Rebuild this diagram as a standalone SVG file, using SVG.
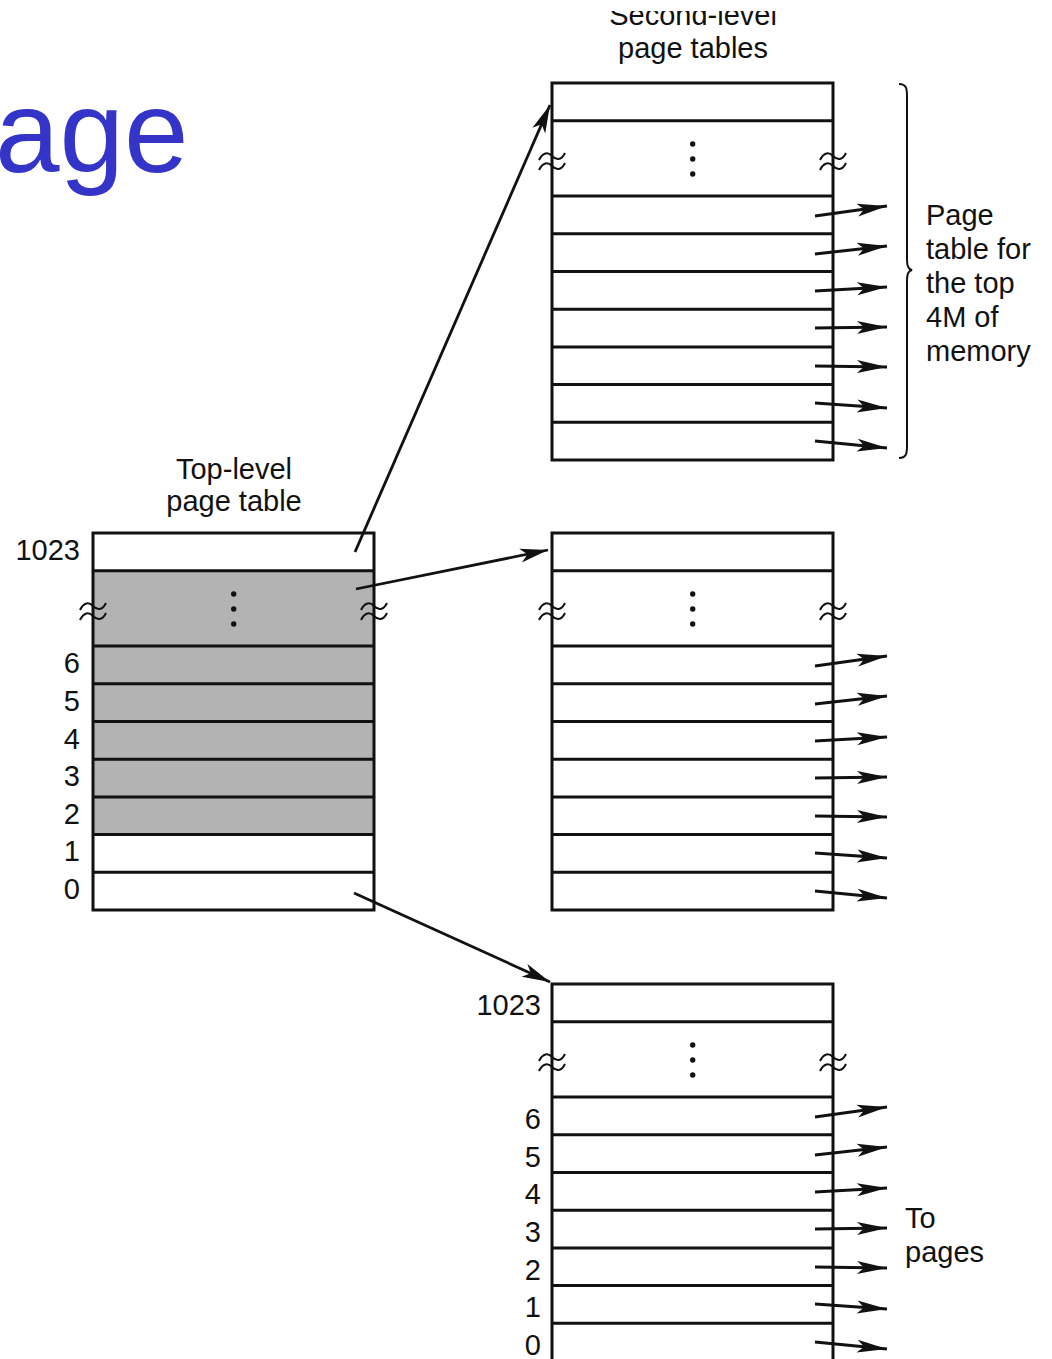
<svg xmlns="http://www.w3.org/2000/svg" xmlns:xlink="http://www.w3.org/1999/xlink" width="1052" height="1359" viewBox="0 0 1052 1359">
<style>
text{font-family:"Liberation Sans",Arial,Helvetica,sans-serif;fill:#111;}
.lbl{font-size:29px;}
.mid{text-anchor:middle;}
.end{text-anchor:end;}
.tb{fill:none;stroke:#111;stroke-width:3;}
.sq{fill:none;stroke:#111;stroke-width:2;}
.ar{fill:none;stroke:#111;stroke-width:2.8;marker-end:url(#ah);}
.ar2{fill:none;stroke:#111;stroke-width:2.8;marker-end:url(#ah2);}
.br{fill:none;stroke:#111;stroke-width:2;}
.title{font-size:116px;fill:#3434c8;}
</style>
<defs>
<marker id="ah" viewBox="-31 -7 32 14" refX="0" refY="0" markerWidth="32" markerHeight="14" markerUnits="userSpaceOnUse" orient="auto">
<path d="M0,0 L-30,-6.5 L-23,0 L-30,6.5 Z" fill="#111"/>
</marker>
<marker id="ah2" viewBox="-31 -8 32 16" refX="0" refY="0" markerWidth="32" markerHeight="16" markerUnits="userSpaceOnUse" orient="auto">
<path d="M0,0 L-28,-7 L-21,0 L-28,7 Z" fill="#111"/>
</marker>
<g id="tblLines">
<rect x="0" y="0" width="281" height="377" class="tb"/>
<path class="tb" d="M0,37.7H281M0,113.1H281M0,150.8H281M0,188.5H281M0,226.2H281M0,263.9H281M0,301.6H281M0,339.3H281"/>
<circle cx="140.7" cy="61" r="2.7" fill="#111"/>
<circle cx="140.7" cy="76" r="2.7" fill="#111"/>
<circle cx="140.7" cy="91" r="2.7" fill="#111"/>
<path class="sq" d="M-13,77 C-9,69 -4,69 0,73 S9,78 13,70 M-13,87 C-9,79 -4,79 0,83 S9,88 13,80"/>
<path class="sq" d="M268,77 C272,69 277,69 281,73 S290,78 294,70 M268,87 C272,79 277,79 281,83 S290,88 294,80"/>
</g>
<g id="fan">
<path class="ar" d="M263,133 L335,123"/>
<path class="ar" d="M263,171 L335,163"/>
<path class="ar" d="M263,208 L335,204"/>
<path class="ar" d="M263,245 L335,244"/>
<path class="ar" d="M263,283 L335,284"/>
<path class="ar" d="M263,320 L335,325"/>
<path class="ar" d="M263,358 L335,365"/>
</g>
</defs>

<text class="title" x="-5" y="172">age</text>

<g id="top-level-table">
<rect x="93" y="570.7" width="281" height="264" fill="#b3b3b3"/>
<use href="#tblLines" xlink:href="#tblLines" transform="translate(93,533)"/>
<text class="lbl mid" x="234" y="479">Top-level</text>
<text class="lbl mid" x="234" y="511">page table</text>
<text class="lbl end" x="80" y="560">1023</text>
<text class="lbl end" x="80" y="673">6</text>
<text class="lbl end" x="80" y="711">5</text>
<text class="lbl end" x="80" y="749">4</text>
<text class="lbl end" x="80" y="786">3</text>
<text class="lbl end" x="80" y="824">2</text>
<text class="lbl end" x="80" y="861">1</text>
<text class="lbl end" x="80" y="899">0</text>
</g>

<g id="second-level-top">
<use href="#tblLines" xlink:href="#tblLines" transform="translate(552,83)"/>
<clipPath id="clipTop"><rect x="0" y="11" width="1052" height="40"/></clipPath>
<text class="lbl mid" x="693" y="25" clip-path="url(#clipTop)">Second-level</text>
<text class="lbl mid" x="693" y="58">page tables</text>
<path class="br" d="M899,84 C906,84 907,88 907,96 L907,258 C907,266 908,269 912,270 C908,271 907,274 907,282 L907,446 C907,454 906,458 899,458"/>
<text class="lbl" x="926" y="225">Page</text>
<text class="lbl" x="926" y="259">table for</text>
<text class="lbl" x="926" y="293">the top</text>
<text class="lbl" x="926" y="327">4M of</text>
<text class="lbl" x="926" y="361">memory</text>
</g>

<g id="second-level-middle">
<use href="#tblLines" xlink:href="#tblLines" transform="translate(552,533)"/>
</g>

<g id="second-level-bottom">
<use href="#tblLines" xlink:href="#tblLines" transform="translate(552,984)"/>
<text class="lbl end" x="541" y="1015">1023</text>
<text class="lbl end" x="541" y="1129">6</text>
<text class="lbl end" x="541" y="1167">5</text>
<text class="lbl end" x="541" y="1204">4</text>
<text class="lbl end" x="541" y="1242">3</text>
<text class="lbl end" x="541" y="1280">2</text>
<text class="lbl end" x="541" y="1317">1</text>
<text class="lbl end" x="541" y="1355">0</text>
<text class="lbl" x="905" y="1228">To</text>
<text class="lbl" x="905" y="1262">pages</text>
</g>

<g id="connectors">
<path class="ar2" d="M355,552 L550,105"/>
<path class="ar2" d="M356,589 L548,550"/>
<path class="ar2" d="M354,893 L550,982"/>
<use href="#fan" xlink:href="#fan" transform="translate(552,83)"/>
<use href="#fan" xlink:href="#fan" transform="translate(552,533)"/>
<use href="#fan" xlink:href="#fan" transform="translate(552,984)"/>
</g>
</svg>
